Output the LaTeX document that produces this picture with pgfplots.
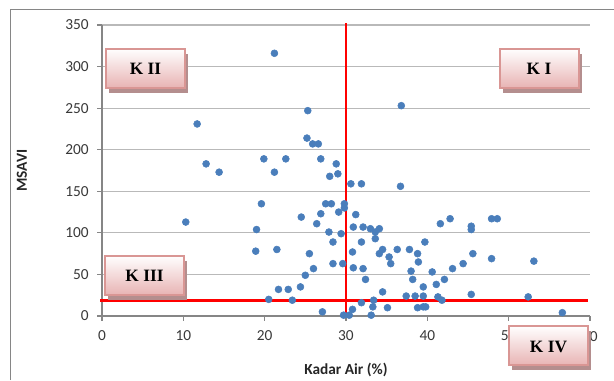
\documentclass[border=0pt]{standalone}
\usepackage{pgfplots}
\pgfplotsset{compat=1.18}
\usepackage{fontspec}
\setmainfont{Carlito}
\newfontfamily\tnr{Liberation Serif}
\definecolor{msblue}{RGB}{74,126,187}
\definecolor{gridgray}{RGB}{185,185,185}
\definecolor{axgray}{RGB}{134,134,134}
\definecolor{boxborder}{RGB}{217,150,148}
\definecolor{boxbottom}{RGB}{232,180,180}
\definecolor{shadowc}{RGB}{180,142,142}
\newcommand{\kbox}[3]{%
  \fill[shadowc] (#1-36.5, #2-14.5) rectangle (#1+42.5,#2+24.5);
  \shade[top color=white,bottom color=boxbottom,draw=boxborder,line width=1.5pt] (#1-39.5,#2-19.5) rectangle (#1+39.5,#2+19.5);
  \node[font=\tnr\bfseries\fontsize{13}{15}\selectfont] at (#1,#2+1) {#3};}
\begin{document}
\begin{tikzpicture}
\useasboundingbox (0,0) rectangle (460.5pt,-285pt);
\begin{scope}[x=0.75pt,y=-0.75pt]
\draw[axgray, line width=1pt] (10.5,380) -- (10.5,9.5) -- (614,9.5);
\end{scope}
\begin{axis}[at={(76.5pt,-237pt)}, anchor=south west, scale only axis,
  width=366pt, height=218.25pt,
  xmin=0, xmax=60, ymin=0, ymax=350,
  xtick={0,10,...,60}, ytick={0,50,...,350},
  axis x line*=bottom, axis y line*=left,
  axis line style={axgray, line width=0.8pt, -},
  ymajorgrids, major grid style={gridgray, line width=0.9pt},
  tick align=outside, major tick length=3.5pt,
  tick style={axgray, line width=0.8pt},
  /pgf/number format/assume math mode=true,
  ticklabel style={font=\fontsize{11.5}{13}\selectfont, text=black!78},
  xticklabel style={yshift=-4pt},
  yticklabel style={xshift=-3pt},
  xlabel={Kadar Air (\%)}, ylabel={MSAVI},
  label style={font=\bfseries\fontsize{11.5}{13}\selectfont, text=black!85},
  xlabel style={at={(axis description cs:0.5,-0.1856)}, anchor=center},
  ylabel style={at={(axis description cs:-0.164,0.5)}, anchor=center},
  clip=false]
\addplot[only marks, mark=*, mark size=2.6pt, mark options={fill=msblue, draw=msblue}] coordinates {
(10.3,113) (11.7,231) (12.8,183) (14.4,173) (18.9,78) (19.0,104) (19.6,135) (19.9,189)
(20.5,20) (21.2,316) (21.2,173) (21.5,80) (21.7,32) (22.6,189) (22.9,32) (23.4,19)
(24.4,35) (24.5,119) (25.0,49) (25.2,214) (25.3,247) (25.5,75) (25.9,207) (26.0,57)
(26.4,111) (26.6,207) (26.9,189) (26.9,123) (27.1,5) (27.5,135) (27.9,101) (28.0,168)
(28.2,135) (28.4,89) (28.4,63) (28.8,183) (29.0,171) (29.1,125) (29.4,99) (29.6,63)
(29.8,135) (29.8,130) (29.7,1) (30.4,1) (30.6,159) (30.8,77) (30.8,8) (30.9,107)
(30.9,58) (31.2,122) (31.9,159) (31.9,89) (31.9,16) (32.1,107) (32.1,57) (32.4,44)
(33.0,105) (33.1,1) (33.3,11) (33.4,19) (33.6,101) (33.6,93) (34.1,105) (34.1,75)
(34.5,80) (34.5,29) (35.1,10) (35.3,71) (35.5,63) (36.3,80) (36.7,156) (36.8,253)
(37.4,24) (37.8,80) (38.0,54) (38.2,44) (38.5,24) (38.8,75) (38.8,10) (38.9,65)
(39.5,35) (39.5,24) (39.5,11) (39.8,11) (39.7,89) (40.6,53) (41.1,38) (41.3,23)
(41.6,111) (41.8,19) (42.1,44) (42.8,117) (43.1,57) (44.4,63) (45.4,108) (45.4,104)
(45.4,26) (45.6,75) (47.9,117) (47.9,69) (48.6,117) (52.4,23) (53.1,66) (56.6,4)
};
\addplot[red, line width=2.2pt] coordinates {(30,0) (30,352)};
\addplot[red, line width=2.2pt] coordinates {(-0.2,19) (59.7,19)};
\end{axis}
\begin{scope}[x=0.75pt,y=-0.75pt]
\kbox{145.5}{68}{K II}
\kbox{539}{68}{K I}
\kbox{144.5}{275}{K III}
\kbox{548.5}{345.5}{K IV}
\end{scope}
\end{tikzpicture}
\end{document}
